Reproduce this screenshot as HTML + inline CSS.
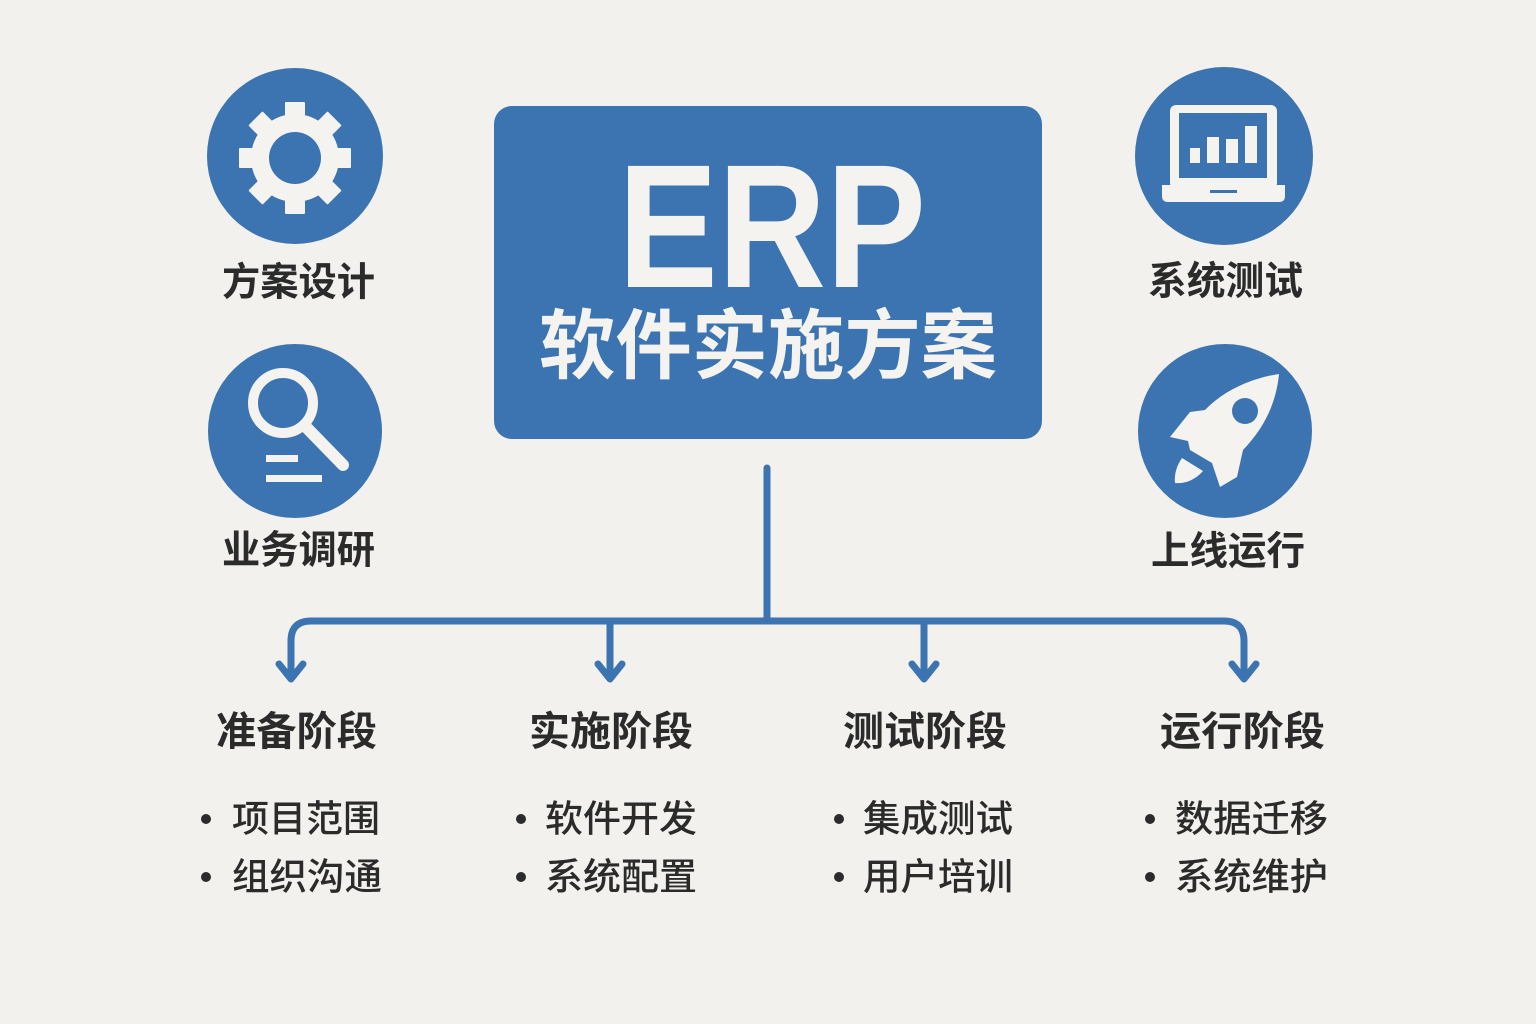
<!DOCTYPE html>
<html>
<head>
<meta charset="utf-8">
<style>
html,body{margin:0;padding:0;background:#f2f1ed;}
svg{display:block;}
text{font-family:"Liberation Sans","Noto Sans CJK SC",sans-serif;}
.cjk{font-family:"Liberation Sans","Noto Sans CJK SC",sans-serif;}
</style>
</head>
<body>
<svg width="1536" height="1024" viewBox="0 0 1536 1024" xmlns="http://www.w3.org/2000/svg">
  <rect x="0" y="0" width="1536" height="1024" fill="#f2f1ed"/>

  <!-- Main box -->
  <rect x="494" y="106" width="548" height="333" rx="18" ry="18" fill="#3b74b1"/>
  <text x="618" y="287" font-size="176" font-weight="bold" fill="#f4f3ef" textLength="308" lengthAdjust="spacingAndGlyphs">ERP</text>
  <text class="cjk" x="539" y="347" font-size="76" font-weight="bold" fill="#f4f3ef" dominant-baseline="central" textLength="458" lengthAdjust="spacingAndGlyphs">软件实施方案</text>

  <!-- Connectors -->
  <g fill="none" stroke="#3b74b1" stroke-width="7" stroke-linecap="round" stroke-linejoin="round">
    <path d="M767,468 L767,621"/>
    <path d="M291,677 L291,641 Q291,621 311,621 L1224,621 Q1244,621 1244,641 L1244,677"/>
    <path d="M610,621 L610,677"/>
    <path d="M924,621 L924,677"/>
    <path d="M279,664 L291,679 L303,664"/>
    <path d="M598,664 L610,679 L622,664"/>
    <path d="M912,664 L924,679 L936,664"/>
    <path d="M1232,664 L1244,679 L1256,664"/>
  </g>

  <!-- Gear circle -->
  <circle cx="295" cy="156" r="88" fill="#3b74b1"/>
  <g transform="translate(295,158)" fill="#f4f3ef">
    <circle cx="0" cy="0" r="44"/>
    <rect x="-10" y="-56" width="20" height="20" rx="1"/>
    <rect x="-10" y="-56" width="20" height="20" rx="1" transform="rotate(45)"/>
    <rect x="-10" y="-56" width="20" height="20" rx="1" transform="rotate(90)"/>
    <rect x="-10" y="-56" width="20" height="20" rx="1" transform="rotate(135)"/>
    <rect x="-10" y="-56" width="20" height="20" rx="1" transform="rotate(180)"/>
    <rect x="-10" y="-56" width="20" height="20" rx="1" transform="rotate(225)"/>
    <rect x="-10" y="-56" width="20" height="20" rx="1" transform="rotate(270)"/>
    <rect x="-10" y="-56" width="20" height="20" rx="1" transform="rotate(315)"/>
    <circle cx="0" cy="0" r="26" fill="#3b74b1"/>
  </g>
  <text class="cjk" x="222" y="283" font-size="39" font-weight="bold" fill="#2b2b2b" dominant-baseline="central" textLength="153" lengthAdjust="spacingAndGlyphs">方案设计</text>

  <!-- Magnifier circle -->
  <circle cx="295" cy="431" r="87" fill="#3b74b1"/>
  <g fill="none" stroke="#f4f3ef" stroke-linecap="round">
    <circle cx="283" cy="403" r="30" stroke-width="10"/>
    <path d="M307,428 L343,465" stroke-width="12"/>
  </g>
  <rect x="266" y="455" width="32" height="7" fill="#f4f3ef"/>
  <rect x="266" y="475" width="56" height="7" fill="#f4f3ef"/>
  <text class="cjk" x="222" y="551" font-size="39" font-weight="bold" fill="#2b2b2b" dominant-baseline="central" textLength="153" lengthAdjust="spacingAndGlyphs">业务调研</text>

  <!-- Laptop circle -->
  <circle cx="1224" cy="156" r="89" fill="#3b74b1"/>
  <rect x="1170" y="105" width="107" height="84" rx="6" fill="#f4f3ef"/>
  <rect x="1179" y="113" width="88" height="65" fill="#3b74b1"/>
  <rect x="1190" y="148" width="10" height="15" fill="#f4f3ef"/>
  <rect x="1207" y="137" width="12" height="26" fill="#f4f3ef"/>
  <rect x="1226" y="139" width="12" height="24" fill="#f4f3ef"/>
  <rect x="1245" y="126" width="12" height="37" fill="#f4f3ef"/>
  <path d="M1162,185 L1285,185 L1285,196 Q1285,202 1279,202 L1168,202 Q1162,202 1162,196 Z" fill="#f4f3ef"/>
  <rect x="1210" y="190" width="27" height="3" fill="#3b74b1"/>
  <text class="cjk" x="1148" y="282" font-size="39" font-weight="bold" fill="#2b2b2b" dominant-baseline="central" textLength="155" lengthAdjust="spacingAndGlyphs">系统测试</text>

  <!-- Rocket circle -->
  <circle cx="1225" cy="431" r="87" fill="#3b74b1"/>
  <path d="M1279,374 C1252,378 1224,390 1205,410 L1190,412 L1170,437 L1188,441 L1190,450 L1212,463 L1220,487 L1237,477 L1243,450 C1264,428 1276,404 1279,374 Z" fill="#f4f3ef"/>
  <circle cx="1245" cy="411" r="13" fill="#3b74b1"/>
  <path d="M1182,458 L1203,471 C1195,480 1185,484 1175,483 C1174,474 1177,465 1182,458 Z" fill="#f4f3ef"/>
  <text class="cjk" x="1151" y="552" font-size="39" font-weight="bold" fill="#2b2b2b" dominant-baseline="central" textLength="154" lengthAdjust="spacingAndGlyphs">上线运行</text>

  <!-- Stage titles -->
  <g class="cjk" font-size="40" font-weight="bold" fill="#2b2b2b" dominant-baseline="central">
    <text x="216" y="732" textLength="161" lengthAdjust="spacingAndGlyphs">准备阶段</text>
    <text x="529" y="732" textLength="164" lengthAdjust="spacingAndGlyphs">实施阶段</text>
    <text x="843" y="732" textLength="164" lengthAdjust="spacingAndGlyphs">测试阶段</text>
    <text x="1160" y="732" textLength="165" lengthAdjust="spacingAndGlyphs">运行阶段</text>
  </g>

  <!-- Bullets -->
  <g fill="#2b2b2b">
    <circle cx="206" cy="819" r="5"/>
    <circle cx="206" cy="877" r="5"/>
    <circle cx="521" cy="819" r="5"/>
    <circle cx="521" cy="877" r="5"/>
    <circle cx="839" cy="819" r="5"/>
    <circle cx="839" cy="877" r="5"/>
    <circle cx="1150" cy="819" r="5"/>
    <circle cx="1150" cy="877" r="5"/>
  </g>
  <g class="cjk" font-size="37" font-weight="500" fill="#2b2b2b" dominant-baseline="central">
    <text x="232" y="819" textLength="148" lengthAdjust="spacingAndGlyphs">项目范围</text>
    <text x="232" y="877" textLength="150" lengthAdjust="spacingAndGlyphs">组织沟通</text>
    <text x="545" y="819" textLength="152" lengthAdjust="spacingAndGlyphs">软件开发</text>
    <text x="545" y="877" textLength="152" lengthAdjust="spacingAndGlyphs">系统配置</text>
    <text x="863" y="819" textLength="150" lengthAdjust="spacingAndGlyphs">集成测试</text>
    <text x="863" y="877" textLength="150" lengthAdjust="spacingAndGlyphs">用户培训</text>
    <text x="1175" y="819" textLength="153" lengthAdjust="spacingAndGlyphs">数据迁移</text>
    <text x="1175" y="877" textLength="153" lengthAdjust="spacingAndGlyphs">系统维护</text>
  </g>
</svg>
</body>
</html>
